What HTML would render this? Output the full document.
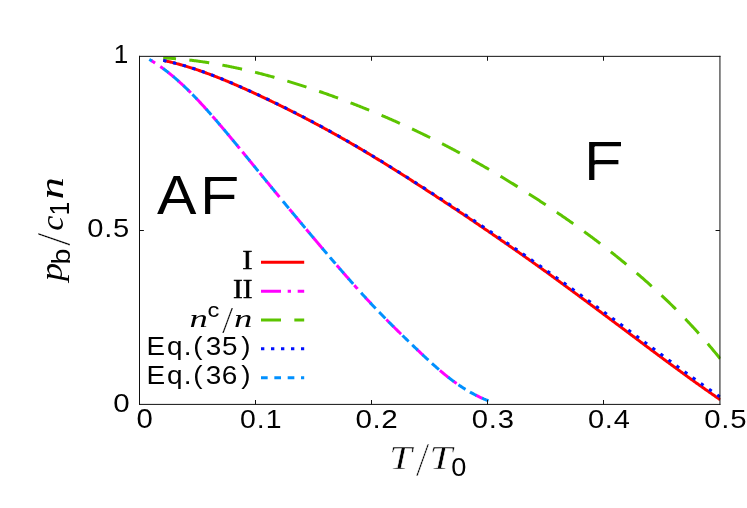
<!DOCTYPE html>
<html><head><meta charset="utf-8"><title>plot</title>
<style>html,body{margin:0;padding:0;background:#fff}svg{display:block}text{font-kerning:none}</style></head><body>
<svg width="747" height="508" viewBox="0 0 747 508">
<rect width="747" height="508" fill="#fff"/>
<defs><clipPath id="cp"><rect x="139.5" y="56.35" width="581.05" height="348.05"/></clipPath></defs>
<g clip-path="url(#cp)" fill="none" stroke-width="3.0" stroke-linecap="butt" stroke-linejoin="round">
<path d="M163.20,60.40 L164.00,60.57 L164.79,60.74 L165.59,60.92 L166.39,61.09 L167.18,61.27 L167.98,61.46 L168.78,61.64 L169.57,61.83 L170.37,62.02 L171.17,62.21 L171.97,62.41 L172.76,62.61 L173.56,62.81 L174.36,63.01 L175.15,63.21 L175.95,63.42 L176.75,63.63 L177.54,63.85 L178.34,64.06 L179.14,64.28 L179.93,64.50 L180.73,64.72 L181.53,64.95 L182.32,65.18 L183.12,65.41 L183.92,65.64 L184.72,65.87 L185.51,66.11 L186.31,66.35 L187.11,66.59 L187.90,66.83 L188.70,67.08 L189.50,67.33 L190.29,67.58 L191.09,67.83 L191.89,68.09 L192.68,68.34 L193.48,68.60 L194.28,68.86 L195.07,69.13 L195.87,69.39 L196.67,69.66 L197.46,69.93 L198.26,70.20 L199.06,70.47 L199.86,70.75 L200.65,71.02 L201.45,71.30 L202.25,71.58 L203.04,71.86 L203.84,72.15 L204.64,72.44 L205.43,72.72 L206.23,73.01 L207.03,73.31 L207.82,73.60 L208.62,73.90 L209.42,74.19 L210.21,74.49 L211.01,74.79 L211.81,75.09 L212.60,75.40 L213.40,75.70 L214.20,76.01 L215.00,76.32 L215.79,76.63 L216.59,76.94 L217.39,77.26 L218.18,77.57 L218.98,77.89 L219.78,78.21 L220.57,78.53 L221.37,78.85 L222.17,79.17 L222.96,79.50 L223.76,79.82 L224.56,80.15 L225.35,80.48 L226.15,80.81 L226.95,81.14 L227.75,81.47 L228.54,81.81 L229.34,82.14 L230.14,82.48 L230.93,82.82 L231.73,83.16 L232.53,83.50 L233.32,83.84 L234.12,84.18 L234.92,84.53 L235.71,84.87 L236.51,85.22 L237.31,85.56 L238.10,85.91 L238.90,86.26 L239.70,86.61 L240.49,86.97 L241.29,87.32 L242.09,87.67 L242.89,88.03 L243.68,88.38 L244.48,88.74 L245.28,89.10 L246.07,89.46 L246.87,89.82 L247.67,90.18 L248.46,90.54 L249.26,90.90 L250.06,91.26 L250.85,91.63 L251.65,91.99 L252.45,92.36 L253.24,92.73 L254.04,93.09 L254.84,93.46 L255.63,93.83 L256.43,94.20 L257.23,94.57 L258.03,94.94 L258.82,95.31 L259.62,95.68 L260.42,96.06 L261.21,96.43 L262.01,96.80 L262.81,97.18 L263.60,97.56 L264.40,97.93 L265.20,98.31 L265.99,98.69 L266.79,99.07 L267.59,99.44 L268.38,99.82 L269.18,100.21 L269.98,100.59 L270.78,100.97 L271.57,101.35 L272.37,101.74 L273.17,102.12 L273.96,102.51 L274.76,102.89 L275.56,103.28 L276.35,103.66 L277.15,104.05 L277.95,104.44 L278.74,104.83 L279.54,105.22 L280.34,105.61 L281.13,106.00 L281.93,106.40 L282.73,106.79 L283.52,107.18 L284.32,107.58 L285.12,107.97 L285.92,108.37 L286.71,108.77 L287.51,109.16 L288.31,109.56 L289.10,109.96 L289.90,110.36 L290.70,110.76 L291.49,111.16 L292.29,111.56 L293.09,111.97 L293.88,112.37 L294.68,112.77 L295.48,113.18 L296.27,113.58 L297.07,113.99 L297.87,114.40 L298.66,114.81 L299.46,115.22 L300.26,115.62 L301.06,116.03 L301.85,116.45 L302.65,116.86 L303.45,117.27 L304.24,117.68 L305.04,118.10 L305.84,118.51 L306.63,118.93 L307.43,119.35 L308.23,119.76 L309.02,120.18 L309.82,120.60 L310.62,121.02 L311.41,121.44 L312.21,121.86 L313.01,122.28 L313.81,122.71 L314.60,123.13 L315.40,123.55 L316.20,123.98 L316.99,124.40 L317.79,124.83 L318.59,125.26 L319.38,125.69 L320.18,126.12 L320.98,126.55 L321.77,126.98 L322.57,127.41 L323.37,127.84 L324.16,128.27 L324.96,128.71 L325.76,129.14 L326.55,129.58 L327.35,130.01 L328.15,130.45 L328.95,130.89 L329.74,131.33 L330.54,131.77 L331.34,132.21 L332.13,132.65 L332.93,133.09 L333.73,133.53 L334.52,133.98 L335.32,134.42 L336.12,134.86 L336.91,135.31 L337.71,135.76 L338.51,136.21 L339.30,136.65 L340.10,137.10 L340.90,137.55 L341.69,138.00 L342.49,138.46 L343.29,138.91 L344.09,139.36 L344.88,139.82 L345.68,140.27 L346.48,140.73 L347.27,141.18 L348.07,141.64 L348.87,142.10 L349.66,142.56 L350.46,143.02 L351.26,143.48 L352.05,143.94 L352.85,144.40 L353.65,144.87 L354.44,145.33 L355.24,145.80 L356.04,146.26 L356.84,146.73 L357.63,147.20 L358.43,147.66 L359.23,148.13 L360.02,148.60 L360.82,149.07 L361.62,149.55 L362.41,150.02 L363.21,150.49 L364.01,150.96 L364.80,151.44 L365.60,151.91 L366.40,152.39 L367.19,152.87 L367.99,153.34 L368.79,153.82 L369.58,154.30 L370.38,154.78 L371.18,155.26 L371.98,155.74 L372.77,156.22 L373.57,156.71 L374.37,157.19 L375.16,157.67 L375.96,158.16 L376.76,158.64 L377.55,159.13 L378.35,159.62 L379.15,160.10 L379.94,160.59 L380.74,161.08 L381.54,161.57 L382.33,162.06 L383.13,162.55 L383.93,163.04 L384.73,163.53 L385.52,164.03 L386.32,164.52 L387.12,165.01 L387.91,165.51 L388.71,166.00 L389.51,166.50 L390.30,167.00 L391.10,167.49 L391.90,167.99 L392.69,168.49 L393.49,168.99 L394.29,169.49 L395.08,169.99 L395.88,170.49 L396.68,170.99 L397.47,171.49 L398.27,172.00 L399.07,172.50 L399.87,173.00 L400.66,173.51 L401.46,174.01 L402.26,174.52 L403.05,175.02 L403.85,175.53 L404.65,176.04 L405.44,176.54 L406.24,177.05 L407.04,177.56 L407.83,178.07 L408.63,178.58 L409.43,179.09 L410.22,179.59 L411.02,180.11 L411.82,180.62 L412.61,181.13 L413.41,181.64 L414.21,182.15 L415.01,182.66 L415.80,183.18 L416.60,183.69 L417.40,184.20 L418.19,184.72 L418.99,185.23 L419.79,185.75 L420.58,186.26 L421.38,186.78 L422.18,187.29 L422.97,187.81 L423.77,188.33 L424.57,188.84 L425.36,189.36 L426.16,189.88 L426.96,190.40 L427.76,190.92 L428.55,191.43 L429.35,191.95 L430.15,192.47 L430.94,192.99 L431.74,193.51 L432.54,194.04 L433.33,194.56 L434.13,195.08 L434.93,195.60 L435.72,196.12 L436.52,196.65 L437.32,197.17 L438.11,197.69 L438.91,198.22 L439.71,198.74 L440.50,199.26 L441.30,199.79 L442.10,200.31 L442.90,200.84 L443.69,201.36 L444.49,201.89 L445.29,202.42 L446.08,202.94 L446.88,203.47 L447.68,204.00 L448.47,204.53 L449.27,205.05 L450.07,205.58 L450.86,206.11 L451.66,206.64 L452.46,207.17 L453.25,207.70 L454.05,208.23 L454.85,208.76 L455.64,209.29 L456.44,209.82 L457.24,210.35 L458.04,210.88 L458.83,211.42 L459.63,211.95 L460.43,212.48 L461.22,213.02 L462.02,213.55 L462.82,214.08 L463.61,214.62 L464.41,215.15 L465.21,215.69 L466.00,216.22 L466.80,216.76 L467.60,217.30 L468.39,217.83 L469.19,218.37 L469.99,218.91 L470.79,219.44 L471.58,219.98 L472.38,220.52 L473.18,221.06 L473.97,221.60 L474.77,222.14 L475.57,222.68 L476.36,223.22 L477.16,223.76 L477.96,224.30 L478.75,224.84 L479.55,225.39 L480.35,225.93 L481.14,226.47 L481.94,227.01 L482.74,227.56 L483.53,228.10 L484.33,228.65 L485.13,229.19 L485.93,229.74 L486.72,230.28 L487.52,230.83 L488.32,231.37 L489.11,231.92 L489.91,232.46 L490.71,233.01 L491.50,233.56 L492.30,234.10 L493.10,234.65 L493.89,235.20 L494.69,235.75 L495.49,236.29 L496.28,236.84 L497.08,237.39 L497.88,237.94 L498.67,238.49 L499.47,239.04 L500.27,239.59 L501.07,240.14 L501.86,240.69 L502.66,241.24 L503.46,241.79 L504.25,242.34 L505.05,242.89 L505.85,243.44 L506.64,243.99 L507.44,244.55 L508.24,245.10 L509.03,245.65 L509.83,246.21 L510.63,246.76 L511.42,247.31 L512.22,247.87 L513.02,248.42 L513.82,248.98 L514.61,249.53 L515.41,250.09 L516.21,250.65 L517.00,251.20 L517.80,251.76 L518.60,252.32 L519.39,252.88 L520.19,253.43 L520.99,253.99 L521.78,254.55 L522.58,255.11 L523.38,255.67 L524.17,256.23 L524.97,256.80 L525.77,257.36 L526.56,257.92 L527.36,258.48 L528.16,259.05 L528.96,259.61 L529.75,260.17 L530.55,260.74 L531.35,261.30 L532.14,261.87 L532.94,262.44 L533.74,263.00 L534.53,263.57 L535.33,264.14 L536.13,264.71 L536.92,265.28 L537.72,265.84 L538.52,266.41 L539.31,266.99 L540.11,267.56 L540.91,268.13 L541.71,268.70 L542.50,269.27 L543.30,269.85 L544.10,270.42 L544.89,270.99 L545.69,271.57 L546.49,272.15 L547.28,272.72 L548.08,273.30 L548.88,273.88 L549.67,274.45 L550.47,275.03 L551.27,275.61 L552.06,276.19 L552.86,276.77 L553.66,277.35 L554.45,277.93 L555.25,278.52 L556.05,279.10 L556.85,279.68 L557.64,280.26 L558.44,280.85 L559.24,281.43 L560.03,282.01 L560.83,282.60 L561.63,283.18 L562.42,283.77 L563.22,284.35 L564.02,284.94 L564.81,285.52 L565.61,286.11 L566.41,286.69 L567.20,287.28 L568.00,287.87 L568.80,288.45 L569.59,289.04 L570.39,289.63 L571.19,290.21 L571.99,290.80 L572.78,291.39 L573.58,291.98 L574.38,292.56 L575.17,293.15 L575.97,293.74 L576.77,294.33 L577.56,294.92 L578.36,295.51 L579.16,296.10 L579.95,296.69 L580.75,297.28 L581.55,297.87 L582.34,298.46 L583.14,299.05 L583.94,299.64 L584.74,300.23 L585.53,300.82 L586.33,301.41 L587.13,302.00 L587.92,302.59 L588.72,303.18 L589.52,303.77 L590.31,304.36 L591.11,304.96 L591.91,305.55 L592.70,306.14 L593.50,306.73 L594.30,307.32 L595.09,307.92 L595.89,308.51 L596.69,309.10 L597.48,309.69 L598.28,310.29 L599.08,310.88 L599.88,311.47 L600.67,312.06 L601.47,312.66 L602.27,313.25 L603.06,313.84 L603.86,314.44 L604.66,315.03 L605.45,315.62 L606.25,316.22 L607.05,316.81 L607.84,317.40 L608.64,318.00 L609.44,318.59 L610.23,319.19 L611.03,319.78 L611.83,320.37 L612.62,320.97 L613.42,321.56 L614.22,322.16 L615.02,322.75 L615.81,323.35 L616.61,323.94 L617.41,324.54 L618.20,325.13 L619.00,325.73 L619.80,326.33 L620.59,326.92 L621.39,327.52 L622.19,328.12 L622.98,328.71 L623.78,329.31 L624.58,329.91 L625.37,330.50 L626.17,331.10 L626.97,331.70 L627.77,332.29 L628.56,332.89 L629.36,333.49 L630.16,334.09 L630.95,334.68 L631.75,335.28 L632.55,335.88 L633.34,336.48 L634.14,337.07 L634.94,337.67 L635.73,338.27 L636.53,338.87 L637.33,339.47 L638.12,340.06 L638.92,340.66 L639.72,341.26 L640.51,341.86 L641.31,342.45 L642.11,343.05 L642.91,343.65 L643.70,344.24 L644.50,344.84 L645.30,345.44 L646.09,346.03 L646.89,346.63 L647.69,347.23 L648.48,347.82 L649.28,348.42 L650.08,349.01 L650.87,349.61 L651.67,350.20 L652.47,350.80 L653.26,351.39 L654.06,351.99 L654.86,352.58 L655.65,353.18 L656.45,353.77 L657.25,354.36 L658.05,354.96 L658.84,355.55 L659.64,356.14 L660.44,356.73 L661.23,357.32 L662.03,357.91 L662.83,358.51 L663.62,359.10 L664.42,359.69 L665.22,360.28 L666.01,360.87 L666.81,361.45 L667.61,362.04 L668.40,362.63 L669.20,363.22 L670.00,363.80 L670.80,364.39 L671.59,364.98 L672.39,365.56 L673.19,366.15 L673.98,366.73 L674.78,367.32 L675.58,367.90 L676.37,368.49 L677.17,369.07 L677.97,369.65 L678.76,370.23 L679.56,370.82 L680.36,371.40 L681.15,371.98 L681.95,372.56 L682.75,373.14 L683.54,373.72 L684.34,374.30 L685.14,374.88 L685.94,375.46 L686.73,376.03 L687.53,376.61 L688.33,377.19 L689.12,377.76 L689.92,378.34 L690.72,378.91 L691.51,379.49 L692.31,380.06 L693.11,380.63 L693.90,381.21 L694.70,381.78 L695.50,382.35 L696.29,382.92 L697.09,383.49 L697.89,384.06 L698.68,384.63 L699.48,385.20 L700.28,385.76 L701.08,386.33 L701.87,386.89 L702.67,387.46 L703.47,388.02 L704.26,388.59 L705.06,389.15 L705.86,389.71 L706.65,390.27 L707.45,390.83 L708.25,391.39 L709.04,391.95 L709.84,392.51 L710.64,393.07 L711.43,393.63 L712.23,394.18 L713.03,394.74 L713.83,395.29 L714.62,395.84 L715.42,396.40 L716.22,396.95 L717.01,397.50 L717.81,398.05 L718.61,398.60 L719.40,399.15 L720.20,399.69" stroke="#ff0000"/>
<path d="M163.20,57.90 L164.00,57.94 L164.79,57.98 L165.59,58.02 L166.39,58.07 L167.18,58.11 L167.98,58.16 L168.78,58.21 L169.57,58.26 L170.37,58.32 L171.17,58.37 L171.97,58.43 L172.76,58.49 L173.56,58.55 L174.36,58.61 L175.15,58.67 L175.95,58.74 L176.75,58.80 L177.54,58.87 L178.34,58.94 L179.14,59.01 L179.93,59.08 L180.73,59.16 L181.53,59.23 L182.32,59.31 L183.12,59.39 L183.92,59.47 L184.72,59.55 L185.51,59.64 L186.31,59.72 L187.11,59.81 L187.90,59.90 L188.70,59.99 L189.50,60.08 L190.29,60.17 L191.09,60.27 L191.89,60.36 L192.68,60.46 L193.48,60.56 L194.28,60.66 L195.07,60.76 L195.87,60.86 L196.67,60.97 L197.46,61.07 L198.26,61.18 L199.06,61.29 L199.86,61.40 L200.65,61.51 L201.45,61.63 L202.25,61.74 L203.04,61.86 L203.84,61.98 L204.64,62.10 L205.43,62.22 L206.23,62.34 L207.03,62.46 L207.82,62.59 L208.62,62.71 L209.42,62.84 L210.21,62.97 L211.01,63.10 L211.81,63.23 L212.60,63.37 L213.40,63.50 L214.20,63.64 L215.00,63.77 L215.79,63.91 L216.59,64.05 L217.39,64.19 L218.18,64.33 L218.98,64.48 L219.78,64.62 L220.57,64.77 L221.37,64.92 L222.17,65.07 L222.96,65.22 L223.76,65.37 L224.56,65.52 L225.35,65.67 L226.15,65.83 L226.95,65.99 L227.75,66.14 L228.54,66.30 L229.34,66.46 L230.14,66.62 L230.93,66.79 L231.73,66.95 L232.53,67.12 L233.32,67.28 L234.12,67.45 L234.92,67.62 L235.71,67.79 L236.51,67.96 L237.31,68.13 L238.10,68.31 L238.90,68.48 L239.70,68.66 L240.49,68.83 L241.29,69.01 L242.09,69.19 L242.89,69.37 L243.68,69.55 L244.48,69.74 L245.28,69.92 L246.07,70.10 L246.87,70.29 L247.67,70.48 L248.46,70.67 L249.26,70.85 L250.06,71.05 L250.85,71.24 L251.65,71.43 L252.45,71.62 L253.24,71.82 L254.04,72.01 L254.84,72.21 L255.63,72.41 L256.43,72.61 L257.23,72.81 L258.03,73.01 L258.82,73.21 L259.62,73.41 L260.42,73.62 L261.21,73.82 L262.01,74.03 L262.81,74.24 L263.60,74.44 L264.40,74.65 L265.20,74.86 L265.99,75.08 L266.79,75.29 L267.59,75.50 L268.38,75.72 L269.18,75.93 L269.98,76.15 L270.78,76.36 L271.57,76.58 L272.37,76.80 L273.17,77.02 L273.96,77.24 L274.76,77.47 L275.56,77.69 L276.35,77.91 L277.15,78.14 L277.95,78.37 L278.74,78.59 L279.54,78.82 L280.34,79.05 L281.13,79.28 L281.93,79.51 L282.73,79.74 L283.52,79.98 L284.32,80.21 L285.12,80.45 L285.92,80.68 L286.71,80.92 L287.51,81.16 L288.31,81.40 L289.10,81.64 L289.90,81.88 L290.70,82.12 L291.49,82.36 L292.29,82.60 L293.09,82.85 L293.88,83.09 L294.68,83.34 L295.48,83.59 L296.27,83.84 L297.07,84.09 L297.87,84.34 L298.66,84.59 L299.46,84.84 L300.26,85.09 L301.06,85.35 L301.85,85.60 L302.65,85.86 L303.45,86.11 L304.24,86.37 L305.04,86.63 L305.84,86.89 L306.63,87.15 L307.43,87.41 L308.23,87.67 L309.02,87.93 L309.82,88.20 L310.62,88.46 L311.41,88.73 L312.21,88.99 L313.01,89.26 L313.81,89.53 L314.60,89.80 L315.40,90.07 L316.20,90.34 L316.99,90.61 L317.79,90.88 L318.59,91.16 L319.38,91.43 L320.18,91.71 L320.98,91.98 L321.77,92.26 L322.57,92.54 L323.37,92.82 L324.16,93.09 L324.96,93.37 L325.76,93.66 L326.55,93.94 L327.35,94.22 L328.15,94.50 L328.95,94.79 L329.74,95.07 L330.54,95.36 L331.34,95.65 L332.13,95.94 L332.93,96.22 L333.73,96.51 L334.52,96.80 L335.32,97.09 L336.12,97.39 L336.91,97.68 L337.71,97.97 L338.51,98.27 L339.30,98.56 L340.10,98.86 L340.90,99.15 L341.69,99.45 L342.49,99.75 L343.29,100.05 L344.09,100.35 L344.88,100.65 L345.68,100.95 L346.48,101.25 L347.27,101.56 L348.07,101.86 L348.87,102.17 L349.66,102.47 L350.46,102.78 L351.26,103.08 L352.05,103.39 L352.85,103.70 L353.65,104.01 L354.44,104.32 L355.24,104.63 L356.04,104.94 L356.84,105.26 L357.63,105.57 L358.43,105.88 L359.23,106.20 L360.02,106.51 L360.82,106.83 L361.62,107.15 L362.41,107.47 L363.21,107.79 L364.01,108.11 L364.80,108.43 L365.60,108.75 L366.40,109.07 L367.19,109.39 L367.99,109.72 L368.79,110.04 L369.58,110.37 L370.38,110.69 L371.18,111.02 L371.98,111.35 L372.77,111.68 L373.57,112.01 L374.37,112.34 L375.16,112.67 L375.96,113.00 L376.76,113.33 L377.55,113.67 L378.35,114.00 L379.15,114.34 L379.94,114.67 L380.74,115.01 L381.54,115.35 L382.33,115.69 L383.13,116.03 L383.93,116.37 L384.73,116.71 L385.52,117.05 L386.32,117.40 L387.12,117.74 L387.91,118.09 L388.71,118.43 L389.51,118.78 L390.30,119.13 L391.10,119.48 L391.90,119.82 L392.69,120.17 L393.49,120.53 L394.29,120.88 L395.08,121.23 L395.88,121.58 L396.68,121.94 L397.47,122.29 L398.27,122.65 L399.07,123.01 L399.87,123.37 L400.66,123.73 L401.46,124.09 L402.26,124.45 L403.05,124.81 L403.85,125.17 L404.65,125.54 L405.44,125.90 L406.24,126.27 L407.04,126.63 L407.83,127.00 L408.63,127.37 L409.43,127.74 L410.22,128.11 L411.02,128.48 L411.82,128.85 L412.61,129.22 L413.41,129.60 L414.21,129.97 L415.01,130.35 L415.80,130.72 L416.60,131.10 L417.40,131.48 L418.19,131.86 L418.99,132.24 L419.79,132.62 L420.58,133.00 L421.38,133.39 L422.18,133.77 L422.97,134.16 L423.77,134.54 L424.57,134.93 L425.36,135.32 L426.16,135.71 L426.96,136.09 L427.76,136.49 L428.55,136.88 L429.35,137.27 L430.15,137.66 L430.94,138.06 L431.74,138.45 L432.54,138.85 L433.33,139.25 L434.13,139.65 L434.93,140.05 L435.72,140.45 L436.52,140.85 L437.32,141.25 L438.11,141.65 L438.91,142.06 L439.71,142.46 L440.50,142.87 L441.30,143.28 L442.10,143.69 L442.90,144.10 L443.69,144.51 L444.49,144.92 L445.29,145.33 L446.08,145.74 L446.88,146.16 L447.68,146.57 L448.47,146.99 L449.27,147.41 L450.07,147.83 L450.86,148.24 L451.66,148.66 L452.46,149.09 L453.25,149.51 L454.05,149.93 L454.85,150.36 L455.64,150.78 L456.44,151.21 L457.24,151.63 L458.04,152.06 L458.83,152.49 L459.63,152.92 L460.43,153.35 L461.22,153.78 L462.02,154.22 L462.82,154.65 L463.61,155.09 L464.41,155.52 L465.21,155.96 L466.00,156.40 L466.80,156.84 L467.60,157.27 L468.39,157.72 L469.19,158.16 L469.99,158.60 L470.79,159.04 L471.58,159.49 L472.38,159.93 L473.18,160.38 L473.97,160.83 L474.77,161.27 L475.57,161.72 L476.36,162.17 L477.16,162.62 L477.96,163.08 L478.75,163.53 L479.55,163.98 L480.35,164.44 L481.14,164.89 L481.94,165.35 L482.74,165.81 L483.53,166.27 L484.33,166.73 L485.13,167.19 L485.93,167.65 L486.72,168.11 L487.52,168.57 L488.32,169.04 L489.11,169.50 L489.91,169.97 L490.71,170.44 L491.50,170.90 L492.30,171.37 L493.10,171.84 L493.89,172.31 L494.69,172.78 L495.49,173.26 L496.28,173.73 L497.08,174.21 L497.88,174.68 L498.67,175.16 L499.47,175.63 L500.27,176.11 L501.07,176.59 L501.86,177.07 L502.66,177.55 L503.46,178.03 L504.25,178.51 L505.05,179.00 L505.85,179.48 L506.64,179.97 L507.44,180.45 L508.24,180.94 L509.03,181.43 L509.83,181.92 L510.63,182.41 L511.42,182.90 L512.22,183.39 L513.02,183.88 L513.82,184.37 L514.61,184.87 L515.41,185.36 L516.21,185.86 L517.00,186.36 L517.80,186.85 L518.60,187.35 L519.39,187.85 L520.19,188.35 L520.99,188.85 L521.78,189.36 L522.58,189.86 L523.38,190.36 L524.17,190.87 L524.97,191.37 L525.77,191.88 L526.56,192.39 L527.36,192.89 L528.16,193.40 L528.96,193.91 L529.75,194.42 L530.55,194.94 L531.35,195.45 L532.14,195.96 L532.94,196.48 L533.74,196.99 L534.53,197.51 L535.33,198.02 L536.13,198.54 L536.92,199.06 L537.72,199.58 L538.52,200.10 L539.31,200.62 L540.11,201.14 L540.91,201.67 L541.71,202.19 L542.50,202.71 L543.30,203.24 L544.10,203.77 L544.89,204.29 L545.69,204.82 L546.49,205.35 L547.28,205.88 L548.08,206.41 L548.88,206.95 L549.67,207.48 L550.47,208.01 L551.27,208.55 L552.06,209.09 L552.86,209.62 L553.66,210.16 L554.45,210.70 L555.25,211.24 L556.05,211.78 L556.85,212.33 L557.64,212.87 L558.44,213.41 L559.24,213.96 L560.03,214.51 L560.83,215.05 L561.63,215.60 L562.42,216.15 L563.22,216.70 L564.02,217.26 L564.81,217.81 L565.61,218.36 L566.41,218.92 L567.20,219.48 L568.00,220.03 L568.80,220.59 L569.59,221.15 L570.39,221.71 L571.19,222.27 L571.99,222.84 L572.78,223.40 L573.58,223.97 L574.38,224.54 L575.17,225.10 L575.97,225.67 L576.77,226.24 L577.56,226.82 L578.36,227.39 L579.16,227.96 L579.95,228.54 L580.75,229.11 L581.55,229.69 L582.34,230.27 L583.14,230.85 L583.94,231.43 L584.74,232.02 L585.53,232.60 L586.33,233.19 L587.13,233.77 L587.92,234.36 L588.72,234.95 L589.52,235.54 L590.31,236.13 L591.11,236.73 L591.91,237.32 L592.70,237.92 L593.50,238.51 L594.30,239.11 L595.09,239.71 L595.89,240.31 L596.69,240.92 L597.48,241.52 L598.28,242.13 L599.08,242.73 L599.88,243.34 L600.67,243.95 L601.47,244.56 L602.27,245.18 L603.06,245.79 L603.86,246.40 L604.66,247.02 L605.45,247.64 L606.25,248.26 L607.05,248.88 L607.84,249.50 L608.64,250.13 L609.44,250.75 L610.23,251.38 L611.03,252.01 L611.83,252.64 L612.62,253.27 L613.42,253.90 L614.22,254.54 L615.02,255.17 L615.81,255.81 L616.61,256.45 L617.41,257.09 L618.20,257.73 L619.00,258.38 L619.80,259.02 L620.59,259.67 L621.39,260.32 L622.19,260.97 L622.98,261.62 L623.78,262.27 L624.58,262.93 L625.37,263.58 L626.17,264.24 L626.97,264.90 L627.77,265.56 L628.56,266.22 L629.36,266.89 L630.16,267.55 L630.95,268.22 L631.75,268.89 L632.55,269.56 L633.34,270.24 L634.14,270.91 L634.94,271.59 L635.73,272.27 L636.53,272.95 L637.33,273.63 L638.12,274.31 L638.92,275.00 L639.72,275.69 L640.51,276.38 L641.31,277.07 L642.11,277.76 L642.91,278.46 L643.70,279.16 L644.50,279.86 L645.30,280.56 L646.09,281.26 L646.89,281.97 L647.69,282.68 L648.48,283.39 L649.28,284.10 L650.08,284.82 L650.87,285.53 L651.67,286.25 L652.47,286.97 L653.26,287.70 L654.06,288.42 L654.86,289.15 L655.65,289.88 L656.45,290.62 L657.25,291.35 L658.05,292.09 L658.84,292.83 L659.64,293.57 L660.44,294.32 L661.23,295.06 L662.03,295.81 L662.83,296.57 L663.62,297.32 L664.42,298.08 L665.22,298.84 L666.01,299.60 L666.81,300.37 L667.61,301.14 L668.40,301.91 L669.20,302.68 L670.00,303.46 L670.80,304.24 L671.59,305.02 L672.39,305.80 L673.19,306.59 L673.98,307.38 L674.78,308.17 L675.58,308.97 L676.37,309.77 L677.17,310.57 L677.97,311.37 L678.76,312.18 L679.56,312.99 L680.36,313.80 L681.15,314.62 L681.95,315.44 L682.75,316.26 L683.54,317.09 L684.34,317.92 L685.14,318.75 L685.94,319.58 L686.73,320.42 L687.53,321.26 L688.33,322.11 L689.12,322.95 L689.92,323.80 L690.72,324.66 L691.51,325.51 L692.31,326.37 L693.11,327.24 L693.90,328.10 L694.70,328.97 L695.50,329.85 L696.29,330.72 L697.09,331.61 L697.89,332.49 L698.68,333.38 L699.48,334.27 L700.28,335.16 L701.08,336.06 L701.87,336.96 L702.67,337.86 L703.47,338.77 L704.26,339.68 L705.06,340.60 L705.86,341.52 L706.65,342.44 L707.45,343.37 L708.25,344.30 L709.04,345.23 L709.84,346.17 L710.64,347.11 L711.43,348.06 L712.23,349.00 L713.03,349.96 L713.83,350.91 L714.62,351.87 L715.42,352.84 L716.22,353.81 L717.01,354.78 L717.81,355.75 L718.61,356.73 L719.40,357.72 L720.20,358.70" stroke="#5cc400" stroke-dasharray="20.064 13.376" stroke-dashoffset="7.2"/>
<path d="M163.20,60.40 L164.00,60.57 L164.79,60.74 L165.59,60.91 L166.39,61.08 L167.18,61.26 L167.98,61.44 L168.78,61.62 L169.57,61.81 L170.37,61.99 L171.17,62.18 L171.97,62.38 L172.76,62.57 L173.56,62.77 L174.36,62.97 L175.15,63.17 L175.95,63.38 L176.75,63.59 L177.54,63.80 L178.34,64.01 L179.14,64.23 L179.93,64.45 L180.73,64.67 L181.53,64.89 L182.32,65.11 L183.12,65.34 L183.92,65.57 L184.72,65.80 L185.51,66.04 L186.31,66.27 L187.11,66.51 L187.90,66.75 L188.70,67.00 L189.50,67.24 L190.29,67.49 L191.09,67.74 L191.89,67.99 L192.68,68.25 L193.48,68.50 L194.28,68.76 L195.07,69.02 L195.87,69.29 L196.67,69.55 L197.46,69.82 L198.26,70.09 L199.06,70.36 L199.86,70.63 L200.65,70.91 L201.45,71.18 L202.25,71.46 L203.04,71.74 L203.84,72.02 L204.64,72.31 L205.43,72.60 L206.23,72.88 L207.03,73.17 L207.82,73.46 L208.62,73.76 L209.42,74.05 L210.21,74.35 L211.01,74.65 L211.81,74.95 L212.60,75.25 L213.40,75.56 L214.20,75.86 L215.00,76.17 L215.79,76.48 L216.59,76.79 L217.39,77.10 L218.18,77.41 L218.98,77.73 L219.78,78.05 L220.57,78.36 L221.37,78.68 L222.17,79.00 L222.96,79.33 L223.76,79.65 L224.56,79.98 L225.35,80.30 L226.15,80.63 L226.95,80.96 L227.75,81.29 L228.54,81.63 L229.34,81.96 L230.14,82.29 L230.93,82.63 L231.73,82.97 L232.53,83.31 L233.32,83.65 L234.12,83.99 L234.92,84.33 L235.71,84.68 L236.51,85.02 L237.31,85.37 L238.10,85.71 L238.90,86.06 L239.70,86.41 L240.49,86.76 L241.29,87.11 L242.09,87.47 L242.89,87.82 L243.68,88.17 L244.48,88.53 L245.28,88.89 L246.07,89.24 L246.87,89.60 L247.67,89.96 L248.46,90.32 L249.26,90.68 L250.06,91.05 L250.85,91.41 L251.65,91.77 L252.45,92.14 L253.24,92.50 L254.04,92.87 L254.84,93.24 L255.63,93.60 L256.43,93.97 L257.23,94.34 L258.03,94.71 L258.82,95.08 L259.62,95.45 L260.42,95.83 L261.21,96.20 L262.01,96.57 L262.81,96.95 L263.60,97.32 L264.40,97.70 L265.20,98.07 L265.99,98.45 L266.79,98.83 L267.59,99.21 L268.38,99.59 L269.18,99.97 L269.98,100.35 L270.78,100.73 L271.57,101.11 L272.37,101.49 L273.17,101.88 L273.96,102.26 L274.76,102.65 L275.56,103.03 L276.35,103.42 L277.15,103.81 L277.95,104.20 L278.74,104.59 L279.54,104.97 L280.34,105.37 L281.13,105.76 L281.93,106.15 L282.73,106.54 L283.52,106.93 L284.32,107.33 L285.12,107.72 L285.92,108.12 L286.71,108.52 L287.51,108.91 L288.31,109.31 L289.10,109.71 L289.90,110.11 L290.70,110.51 L291.49,110.91 L292.29,111.31 L293.09,111.72 L293.88,112.12 L294.68,112.52 L295.48,112.93 L296.27,113.33 L297.07,113.74 L297.87,114.15 L298.66,114.56 L299.46,114.97 L300.26,115.37 L301.06,115.79 L301.85,116.20 L302.65,116.61 L303.45,117.02 L304.24,117.43 L305.04,117.85 L305.84,118.26 L306.63,118.68 L307.43,119.10 L308.23,119.51 L309.02,119.93 L309.82,120.35 L310.62,120.77 L311.41,121.19 L312.21,121.61 L313.01,122.03 L313.81,122.46 L314.60,122.88 L315.40,123.31 L316.20,123.73 L316.99,124.16 L317.79,124.58 L318.59,125.01 L319.38,125.44 L320.18,125.87 L320.98,126.30 L321.77,126.73 L322.57,127.16 L323.37,127.59 L324.16,128.03 L324.96,128.46 L325.76,128.89 L326.55,129.33 L327.35,129.77 L328.15,130.20 L328.95,130.64 L329.74,131.08 L330.54,131.52 L331.34,131.96 L332.13,132.40 L332.93,132.84 L333.73,133.29 L334.52,133.73 L335.32,134.17 L336.12,134.62 L336.91,135.07 L337.71,135.51 L338.51,135.96 L339.30,136.41 L340.10,136.86 L340.90,137.31 L341.69,137.76 L342.49,138.21 L343.29,138.66 L344.09,139.12 L344.88,139.57 L345.68,140.03 L346.48,140.48 L347.27,140.94 L348.07,141.40 L348.87,141.86 L349.66,142.32 L350.46,142.78 L351.26,143.24 L352.05,143.70 L352.85,144.16 L353.65,144.62 L354.44,145.09 L355.24,145.55 L356.04,146.02 L356.84,146.49 L357.63,146.95 L358.43,147.42 L359.23,147.89 L360.02,148.36 L360.82,148.83 L361.62,149.30 L362.41,149.77 L363.21,150.25 L364.01,150.72 L364.80,151.20 L365.60,151.67 L366.40,152.15 L367.19,152.62 L367.99,153.10 L368.79,153.58 L369.58,154.06 L370.38,154.54 L371.18,155.02 L371.98,155.50 L372.77,155.98 L373.57,156.46 L374.37,156.95 L375.16,157.43 L375.96,157.91 L376.76,158.40 L377.55,158.89 L378.35,159.37 L379.15,159.86 L379.94,160.35 L380.74,160.84 L381.54,161.32 L382.33,161.81 L383.13,162.31 L383.93,162.80 L384.73,163.29 L385.52,163.78 L386.32,164.27 L387.12,164.77 L387.91,165.26 L388.71,165.76 L389.51,166.25 L390.30,166.75 L391.10,167.25 L391.90,167.74 L392.69,168.24 L393.49,168.74 L394.29,169.24 L395.08,169.74 L395.88,170.24 L396.68,170.74 L397.47,171.24 L398.27,171.75 L399.07,172.25 L399.87,172.75 L400.66,173.26 L401.46,173.76 L402.26,174.26 L403.05,174.77 L403.85,175.27 L404.65,175.77 L405.44,176.28 L406.24,176.78 L407.04,177.28 L407.83,177.79 L408.63,178.29 L409.43,178.79 L410.22,179.30 L411.02,179.80 L411.82,180.30 L412.61,180.80 L413.41,181.31 L414.21,181.81 L415.01,182.31 L415.80,182.82 L416.60,183.32 L417.40,183.83 L418.19,184.33 L418.99,184.83 L419.79,185.34 L420.58,185.84 L421.38,186.35 L422.18,186.85 L422.97,187.36 L423.77,187.87 L424.57,188.37 L425.36,188.88 L426.16,189.38 L426.96,189.89 L427.76,190.40 L428.55,190.91 L429.35,191.41 L430.15,191.92 L430.94,192.43 L431.74,192.94 L432.54,193.45 L433.33,193.96 L434.13,194.47 L434.93,194.98 L435.72,195.49 L436.52,196.01 L437.32,196.52 L438.11,197.03 L438.91,197.55 L439.71,198.06 L440.50,198.57 L441.30,199.09 L442.10,199.61 L442.90,200.12 L443.69,200.64 L444.49,201.16 L445.29,201.68 L446.08,202.20 L446.88,202.72 L447.68,203.24 L448.47,203.76 L449.27,204.28 L450.07,204.80 L450.86,205.32 L451.66,205.84 L452.46,206.36 L453.25,206.88 L454.05,207.40 L454.85,207.93 L455.64,208.45 L456.44,208.97 L457.24,209.50 L458.04,210.02 L458.83,210.54 L459.63,211.07 L460.43,211.59 L461.22,212.12 L462.02,212.65 L462.82,213.17 L463.61,213.70 L464.41,214.22 L465.21,214.75 L466.00,215.28 L466.80,215.81 L467.60,216.34 L468.39,216.86 L469.19,217.39 L469.99,217.92 L470.79,218.45 L471.58,218.98 L472.38,219.51 L473.18,220.04 L473.97,220.57 L474.77,221.11 L475.57,221.64 L476.36,222.17 L477.16,222.70 L477.96,223.24 L478.75,223.77 L479.55,224.31 L480.35,224.84 L481.14,225.37 L481.94,225.91 L482.74,226.45 L483.53,226.98 L484.33,227.52 L485.13,228.05 L485.93,228.59 L486.72,229.13 L487.52,229.67 L488.32,230.21 L489.11,230.74 L489.91,231.28 L490.71,231.82 L491.50,232.36 L492.30,232.90 L493.10,233.44 L493.89,233.98 L494.69,234.52 L495.49,235.07 L496.28,235.61 L497.08,236.15 L497.88,236.69 L498.67,237.24 L499.47,237.78 L500.27,238.32 L501.07,238.87 L501.86,239.41 L502.66,239.96 L503.46,240.50 L504.25,241.05 L505.05,241.59 L505.85,242.14 L506.64,242.69 L507.44,243.24 L508.24,243.78 L509.03,244.33 L509.83,244.88 L510.63,245.43 L511.42,245.98 L512.22,246.53 L513.02,247.08 L513.82,247.63 L514.61,248.18 L515.41,248.73 L516.21,249.28 L517.00,249.83 L517.80,250.38 L518.60,250.94 L519.39,251.49 L520.19,252.04 L520.99,252.60 L521.78,253.15 L522.58,253.71 L523.38,254.26 L524.17,254.82 L524.97,255.37 L525.77,255.93 L526.56,256.49 L527.36,257.04 L528.16,257.60 L528.96,258.16 L529.75,258.72 L530.55,259.27 L531.35,259.83 L532.14,260.39 L532.94,260.95 L533.74,261.51 L534.53,262.07 L535.33,262.63 L536.13,263.20 L536.92,263.76 L537.72,264.32 L538.52,264.88 L539.31,265.44 L540.11,266.01 L540.91,266.57 L541.71,267.13 L542.50,267.70 L543.30,268.26 L544.10,268.83 L544.89,269.39 L545.69,269.96 L546.49,270.52 L547.28,271.09 L548.08,271.65 L548.88,272.22 L549.67,272.78 L550.47,273.35 L551.27,273.92 L552.06,274.48 L552.86,275.05 L553.66,275.62 L554.45,276.18 L555.25,276.75 L556.05,277.32 L556.85,277.89 L557.64,278.46 L558.44,279.02 L559.24,279.59 L560.03,280.16 L560.83,280.73 L561.63,281.30 L562.42,281.87 L563.22,282.44 L564.02,283.01 L564.81,283.58 L565.61,284.15 L566.41,284.72 L567.20,285.30 L568.00,285.87 L568.80,286.44 L569.59,287.01 L570.39,287.59 L571.19,288.16 L571.99,288.73 L572.78,289.31 L573.58,289.88 L574.38,290.45 L575.17,291.03 L575.97,291.60 L576.77,292.18 L577.56,292.75 L578.36,293.33 L579.16,293.91 L579.95,294.48 L580.75,295.06 L581.55,295.64 L582.34,296.21 L583.14,296.79 L583.94,297.37 L584.74,297.95 L585.53,298.53 L586.33,299.11 L587.13,299.69 L587.92,300.27 L588.72,300.85 L589.52,301.43 L590.31,302.01 L591.11,302.59 L591.91,303.17 L592.70,303.75 L593.50,304.34 L594.30,304.92 L595.09,305.50 L595.89,306.09 L596.69,306.67 L597.48,307.25 L598.28,307.84 L599.08,308.42 L599.88,309.01 L600.67,309.60 L601.47,310.18 L602.27,310.77 L603.06,311.36 L603.86,311.94 L604.66,312.53 L605.45,313.12 L606.25,313.71 L607.05,314.30 L607.84,314.89 L608.64,315.47 L609.44,316.06 L610.23,316.65 L611.03,317.24 L611.83,317.83 L612.62,318.42 L613.42,319.01 L614.22,319.60 L615.02,320.19 L615.81,320.78 L616.61,321.37 L617.41,321.96 L618.20,322.54 L619.00,323.13 L619.80,323.72 L620.59,324.31 L621.39,324.90 L622.19,325.49 L622.98,326.08 L623.78,326.67 L624.58,327.26 L625.37,327.85 L626.17,328.44 L626.97,329.03 L627.77,329.62 L628.56,330.21 L629.36,330.80 L630.16,331.39 L630.95,331.98 L631.75,332.58 L632.55,333.17 L633.34,333.76 L634.14,334.35 L634.94,334.94 L635.73,335.53 L636.53,336.12 L637.33,336.71 L638.12,337.30 L638.92,337.89 L639.72,338.48 L640.51,339.07 L641.31,339.66 L642.11,340.25 L642.91,340.84 L643.70,341.43 L644.50,342.02 L645.30,342.61 L646.09,343.20 L646.89,343.79 L647.69,344.38 L648.48,344.97 L649.28,345.56 L650.08,346.15 L650.87,346.74 L651.67,347.33 L652.47,347.92 L653.26,348.51 L654.06,349.10 L654.86,349.69 L655.65,350.28 L656.45,350.87 L657.25,351.46 L658.05,352.06 L658.84,352.65 L659.64,353.24 L660.44,353.84 L661.23,354.43 L662.03,355.03 L662.83,355.62 L663.62,356.21 L664.42,356.81 L665.22,357.40 L666.01,358.00 L666.81,358.59 L667.61,359.19 L668.40,359.78 L669.20,360.38 L670.00,360.97 L670.80,361.57 L671.59,362.16 L672.39,362.75 L673.19,363.35 L673.98,363.94 L674.78,364.53 L675.58,365.12 L676.37,365.71 L677.17,366.30 L677.97,366.89 L678.76,367.48 L679.56,368.07 L680.36,368.65 L681.15,369.24 L681.95,369.82 L682.75,370.41 L683.54,370.99 L684.34,371.57 L685.14,372.15 L685.94,372.73 L686.73,373.31 L687.53,373.89 L688.33,374.46 L689.12,375.04 L689.92,375.61 L690.72,376.18 L691.51,376.76 L692.31,377.33 L693.11,377.90 L693.90,378.47 L694.70,379.04 L695.50,379.61 L696.29,380.18 L697.09,380.74 L697.89,381.31 L698.68,381.88 L699.48,382.44 L700.28,383.01 L701.08,383.57 L701.87,384.13 L702.67,384.70 L703.47,385.26 L704.26,385.82 L705.06,386.38 L705.86,386.94 L706.65,387.50 L707.45,388.06 L708.25,388.62 L709.04,389.18 L709.84,389.74 L710.64,390.30 L711.43,390.86 L712.23,391.42 L713.03,391.97 L713.83,392.53 L714.62,393.09 L715.42,393.65 L716.22,394.21 L717.01,394.76 L717.81,395.32 L718.61,395.88 L719.40,396.43 L720.20,396.99" stroke="#0010ff" stroke-dasharray="3.33 6.679"/>
<path d="M151.30,60.60 L151.73,60.86 L152.21,61.15 L152.70,61.45 L153.18,61.76 L153.67,62.06 L154.15,62.37 L154.64,62.68 L155.10,62.98M160.30,66.51 L160.46,66.62 L160.95,66.96 L161.43,67.31 L161.92,67.66 L162.40,68.02 L162.89,68.37 L163.37,68.73 L163.86,69.09 L163.90,69.12M167.90,72.19 L168.23,72.44 L168.71,72.83 L169.20,73.22 L169.68,73.61 L170.17,74.00 L170.65,74.39 L171.14,74.79 L171.62,75.19 L172.11,75.59 L172.59,75.99 L173.08,76.40 L173.56,76.81 L173.80,77.01M178.10,80.74 L178.42,81.02 L178.90,81.46 L179.39,81.90 L179.87,82.33 L180.36,82.77 L180.84,83.22 L181.33,83.66 L181.81,84.11 L182.30,84.56 L182.78,85.01 L183.27,85.47 L183.75,85.92 L184.00,86.15M188.00,90.01 L188.12,90.12 L188.61,90.60 L189.09,91.08 L189.58,91.56 L190.06,92.05 L190.55,92.53 L190.80,92.79M196.40,98.54 L196.86,99.01 L197.34,99.53 L197.83,100.04 L198.31,100.55 L198.80,101.07 L199.28,101.59 L199.77,102.11 L200.25,102.63 L200.74,103.15 L201.22,103.67 L201.71,104.20 L202.19,104.73 L202.68,105.25 L203.16,105.78 L203.65,106.32 L204.13,106.85 L204.62,107.38 L205.11,107.92 L205.59,108.46 L206.08,109.00 L206.56,109.54 L206.60,109.58M212.60,116.36 L212.87,116.67 L213.35,117.22 L213.84,117.78 L214.33,118.34 L214.81,118.90 L215.30,119.46 L215.78,120.02 L216.27,120.58 L216.30,120.62M219.20,124.00 L219.66,124.54 L220.15,125.11 L220.63,125.68 L221.12,126.25 L221.60,126.82 L222.09,127.40 L222.57,127.97 L223.06,128.54 L223.55,129.12 L224.03,129.69 L224.50,130.25M227.90,134.29 L227.91,134.31 L228.40,134.89 L228.88,135.47 L229.37,136.05 L229.85,136.63 L230.34,137.21 L230.82,137.79 L231.31,138.38 L231.79,138.96 L232.28,139.54 L232.77,140.13 L233.20,140.65M236.90,145.12 L237.13,145.40 L237.62,145.99 L238.10,146.58 L238.59,147.16 L239.07,147.75 L239.56,148.34 L239.60,148.39M242.40,151.80 L242.47,151.88 L242.96,152.47 L243.44,153.06 L243.93,153.65 L244.41,154.25 L244.90,154.84 L245.38,155.43 L245.87,156.02 L246.30,156.55M249.20,160.09 L249.26,160.17 L249.75,160.77 L250.24,161.36 L250.72,161.95 L251.21,162.55 L251.69,163.14 L252.18,163.73 L252.66,164.33 L253.15,164.92 L253.63,165.52 L254.12,166.11 L254.50,166.58M259.70,172.94 L259.94,173.24 L260.43,173.83 L260.91,174.42 L261.40,175.02 L261.88,175.61 L262.37,176.20 L262.85,176.80 L263.10,177.10M266.40,181.13 L266.73,181.54 L267.22,182.13 L267.70,182.72 L268.19,183.31 L268.68,183.90 L269.16,184.49 L269.65,185.09 L270.13,185.68 L270.62,186.27 L271.10,186.86 L271.59,187.45 L271.80,187.71M274.70,191.24 L274.98,191.58 L275.47,192.17 L275.95,192.76 L276.44,193.35 L276.92,193.94 L277.41,194.53 L277.90,195.12 L278.38,195.70 L278.87,196.29 L279.35,196.88 L279.50,197.06M289.50,209.15 L289.54,209.20 L290.03,209.79 L290.51,210.37 L291.00,210.96 L291.48,211.54 L291.97,212.13 L292.45,212.71 L292.90,213.25M296.10,217.10 L296.34,217.38 L296.82,217.96 L297.31,218.55 L297.79,219.13 L298.28,219.71 L298.76,220.30 L299.25,220.88 L299.73,221.46 L300.22,222.04 L300.70,222.62 L301.19,223.20 L301.40,223.46M306.30,229.32 L306.53,229.59 L307.01,230.17 L307.50,230.75 L307.98,231.33 L308.47,231.91 L308.95,232.48 L309.44,233.06 L309.70,233.38M312.90,237.18 L313.32,237.68 L313.80,238.26 L314.29,238.83 L314.78,239.41 L315.26,239.98 L315.75,240.56 L316.23,241.14 L316.72,241.71 L317.20,242.28 L317.69,242.86 L318.17,243.43 L318.66,244.01 L319.14,244.58 L319.63,245.15 L320.11,245.73 L320.60,246.30 L321.08,246.87 L321.57,247.44 L322.05,248.02 L322.54,248.59 L322.80,248.90M336.80,265.25 L337.10,265.60 L337.58,266.16 L338.07,266.72 L338.55,267.28 L339.04,267.84 L339.52,268.40 L340.01,268.96 L340.20,269.18M343.10,272.52 L343.41,272.87 L343.89,273.43 L344.38,273.98 L344.86,274.54 L345.35,275.09 L345.83,275.65 L346.32,276.20 L346.80,276.76 L347.29,277.31 L347.77,277.86 L348.26,278.41 L348.74,278.97 L348.90,279.14M354.20,285.13 L354.57,285.54 L355.05,286.08 L355.54,286.63 L356.02,287.17 L356.51,287.71 L356.99,288.25 L357.48,288.79 L357.50,288.82M365.60,297.74 L365.73,297.88 L366.21,298.40 L366.70,298.93 L367.18,299.46 L367.67,299.98 L368.15,300.51 L368.64,301.03 L369.12,301.55 L369.61,302.07 L370.10,302.59 L370.58,303.11 L370.80,303.35M386.30,319.46 L386.59,319.75 L387.08,320.24 L387.56,320.73 L388.05,321.22 L388.54,321.71 L389.02,322.20 L389.30,322.48M393.00,326.17 L393.39,326.55 L393.87,327.03 L394.36,327.51 L394.84,327.99 L395.33,328.47 L395.81,328.95 L396.30,329.43 L396.78,329.91 L397.27,330.38 L397.76,330.86 L398.24,331.34 L398.73,331.81 L399.21,332.29 L399.70,332.76 L400.18,333.24 L400.67,333.71 L401.10,334.13M417.10,349.55 L417.17,349.62 L417.65,350.08 L418.14,350.54 L418.62,351.00 L419.11,351.46 L419.59,351.93 L420.08,352.39 L420.56,352.85 L421.05,353.31 L421.53,353.76 L422.02,354.22 L422.50,354.68 L422.99,355.14 L423.10,355.24M439.90,370.40 L439.97,370.46 L440.46,370.88 L440.94,371.29 L441.43,371.70 L441.91,372.10 L442.40,372.51 L442.89,372.92 L443.37,373.32 L443.86,373.72 L444.34,374.12 L444.83,374.51 L445.31,374.91 L445.80,375.30 L446.28,375.69 L446.77,376.08 L447.25,376.47 L447.74,376.85 L448.22,377.23 L448.71,377.62 L448.80,377.69M453.40,381.18 L453.56,381.30 L454.05,381.65 L454.53,382.00 L455.02,382.36 L455.50,382.70 L455.99,383.05 L456.47,383.39 L456.60,383.48M475.80,395.17 L475.88,395.21 L476.37,395.46 L476.85,395.70 L477.34,395.94 L477.82,396.18 L478.31,396.42 L478.79,396.65 L479.28,396.89 L479.77,397.11 L480.25,397.34 L480.74,397.57 L481.22,397.79 L481.71,398.01 L482.19,398.22 L482.68,398.44 L482.70,398.45" stroke="#ff00ff"/>
<path d="M149.30,59.41 L149.79,59.69 L150.27,59.98 L150.76,60.27 L151.24,60.56 L151.73,60.86 L151.90,60.96M163.30,68.67 L163.37,68.73 L163.86,69.09 L164.34,69.45 L164.83,69.82 L165.31,70.18 L165.80,70.55 L166.28,70.93 L166.77,71.30 L167.25,71.68 L167.74,72.06 L168.23,72.44 L168.50,72.66M173.20,76.50 L173.56,76.81 L174.05,77.22 L174.53,77.63 L175.02,78.05 L175.50,78.47 L175.99,78.89 L176.47,79.31 L176.96,79.74 L177.45,80.16 L177.93,80.59 L178.42,81.02 L178.70,81.28M183.40,85.59 L183.75,85.92 L184.24,86.38 L184.72,86.84 L185.21,87.30 L185.69,87.77 L186.18,88.24 L186.67,88.70 L187.15,89.18 L187.64,89.65 L188.12,90.12 L188.60,90.60M192.40,94.40 L192.49,94.49 L192.97,94.99 L193.46,95.48 L193.94,95.98 L194.43,96.48 L194.91,96.99 L195.40,97.49 L195.89,98.00 L196.37,98.50 L196.86,99.01 L197.00,99.17M206.00,108.91 L206.08,109.00 L206.56,109.54 L207.05,110.08 L207.53,110.62 L208.02,111.16 L208.50,111.71 L208.99,112.25 L209.47,112.80 L209.96,113.35 L210.44,113.90 L210.93,114.45 L211.30,114.87M215.70,119.92 L215.78,120.02 L216.27,120.58 L216.75,121.14 L217.24,121.71 L217.72,122.27 L218.21,122.84 L218.69,123.41 L219.18,123.97 L219.66,124.54 L219.80,124.70M223.90,129.54 L224.03,129.69 L224.52,130.27 L225.00,130.84 L225.49,131.42 L225.97,131.99 L226.46,132.57 L226.94,133.15 L227.43,133.73 L227.91,134.31 L228.40,134.89 L228.50,135.01M232.60,139.93 L232.77,140.13 L233.25,140.71 L233.74,141.30 L234.22,141.88 L234.71,142.47 L235.19,143.05 L235.68,143.64 L236.16,144.23 L236.65,144.81 L237.13,145.40 L237.50,145.84M245.70,155.82 L245.87,156.02 L246.35,156.61 L246.84,157.21 L247.32,157.80 L247.81,158.39 L248.29,158.99 L248.78,159.58 L249.26,160.17 L249.75,160.77 L249.80,160.83M253.90,165.84 L254.12,166.11 L254.60,166.70 L255.09,167.30 L255.57,167.89 L256.06,168.49 L256.54,169.08 L257.03,169.67 L257.51,170.27 L258.00,170.86 L258.30,171.23M262.50,176.37 L262.85,176.80 L263.34,177.39 L263.82,177.98 L264.31,178.58 L264.79,179.17 L265.28,179.76 L265.76,180.35 L266.25,180.94 L266.73,181.54 L267.00,181.86M271.20,186.98 L271.59,187.45 L272.07,188.04 L272.56,188.63 L273.04,189.22 L273.53,189.81 L274.01,190.40 L274.50,190.99 L274.98,191.58 L275.30,191.96M282.90,201.18 L283.23,201.58 L283.72,202.17 L284.20,202.76 L284.69,203.34 L285.17,203.93 L285.66,204.52 L286.14,205.10 L286.63,205.69 L287.12,206.28 L287.60,206.86 L288.09,207.45 L288.57,208.03 L288.80,208.31M292.30,212.53 L292.45,212.71 L292.94,213.30 L293.42,213.88 L293.91,214.46 L294.39,215.05 L294.88,215.63 L295.36,216.22 L295.85,216.80 L296.34,217.38 L296.70,217.82M300.80,222.74 L301.19,223.20 L301.67,223.79 L302.16,224.37 L302.64,224.95 L303.13,225.53 L303.61,226.11 L304.10,226.69 L304.58,227.27 L305.07,227.85 L305.20,228.01M309.10,232.66 L309.44,233.06 L309.92,233.64 L310.41,234.22 L310.89,234.80 L311.38,235.37 L311.86,235.95 L312.35,236.53 L312.83,237.10 L313.32,237.68 L313.50,237.90M322.20,248.19 L322.54,248.59 L323.02,249.16 L323.51,249.73 L324.00,250.30 L324.48,250.87 L324.97,251.44 L325.45,252.01 L325.94,252.58 L326.42,253.15 L326.91,253.72 L327.00,253.83M330.00,257.34 L330.30,257.70 L330.79,258.26 L331.27,258.83 L331.76,259.39 L332.24,259.96 L332.73,260.53 L333.22,261.09 L333.70,261.65 L334.19,262.22 L334.67,262.78 L335.16,263.35 L335.40,263.63M339.60,268.49 L340.01,268.96 L340.49,269.52 L340.98,270.08 L341.46,270.64 L341.95,271.20 L342.44,271.76 L342.92,272.31 L343.41,272.87 L343.70,273.21M348.30,278.46 L348.74,278.97 L349.23,279.52 L349.71,280.07 L350.20,280.62 L350.68,281.17 L351.17,281.72 L351.66,282.26 L352.14,282.81 L352.63,283.36 L353.10,283.89M361.10,292.81 L361.36,293.10 L361.85,293.63 L362.33,294.16 L362.82,294.70 L363.30,295.23 L363.79,295.76 L364.27,296.29 L364.76,296.82 L365.24,297.35 L365.73,297.88 L366.20,298.39M370.20,302.70 L370.58,303.11 L371.07,303.63 L371.55,304.15 L372.04,304.67 L372.52,305.18 L373.01,305.70 L373.49,306.21 L373.98,306.73 L374.46,307.24 L374.95,307.75 L375.43,308.26 L375.70,308.54M379.10,312.09 L379.32,312.31 L379.80,312.81 L380.29,313.31 L380.77,313.81 L381.26,314.31 L381.74,314.81 L382.23,315.31 L382.71,315.81 L383.20,316.30 L383.68,316.80 L384.17,317.29 L384.65,317.79 L385.14,318.28 L385.30,318.44M388.70,321.87 L389.02,322.20 L389.51,322.68 L389.99,323.17 L390.48,323.65 L390.96,324.14 L391.45,324.62 L391.93,325.11 L392.42,325.59 L392.90,326.07 L393.39,326.55 L393.60,326.76M402.50,335.49 L402.61,335.60 L403.09,336.07 L403.58,336.54 L404.06,337.01 L404.55,337.48 L405.03,337.95 L405.52,338.42 L406.01,338.89 L406.49,339.36 L406.98,339.83 L407.46,340.30 L407.95,340.77 L408.43,341.24 L408.70,341.49M412.20,344.86 L412.31,344.97 L412.80,345.43 L413.28,345.90 L413.77,346.37 L414.25,346.83 L414.74,347.30 L415.23,347.76 L415.71,348.22 L416.20,348.69 L416.68,349.15 L417.17,349.62 L417.65,350.08 L417.70,350.12M422.50,354.68 L422.50,354.68 L422.99,355.14 L423.47,355.59 L423.96,356.05 L424.45,356.50 L424.93,356.95 L425.42,357.41 L425.90,357.86 L426.39,358.31 L426.87,358.76 L427.36,359.21 L427.84,359.66 L428.33,360.10 L428.40,360.17M432.00,363.45 L432.21,363.64 L432.69,364.08 L433.18,364.51 L433.67,364.95 L434.15,365.38 L434.64,365.81 L435.12,366.24 L435.61,366.67 L436.09,367.10 L436.58,367.52 L437.06,367.95 L437.55,368.37 L438.03,368.79 L438.52,369.21 L438.90,369.54M448.20,377.22 L448.22,377.23 L448.71,377.62 L449.19,377.99 L449.68,378.37 L450.16,378.74 L450.65,379.11 L451.13,379.48 L451.62,379.85 L452.11,380.22 L452.59,380.58 L453.08,380.94 L453.56,381.30 L454.00,381.62M458.50,384.80 L458.90,385.08 L459.38,385.41 L459.87,385.74 L460.35,386.06 L460.84,386.38 L461.33,386.70 L461.81,387.02 L462.30,387.34 L462.78,387.65 L463.27,387.96 L463.75,388.27 L464.24,388.58 L464.72,388.88 L465.21,389.18 L465.50,389.36M470.00,392.03 L470.06,392.07 L470.55,392.34 L471.03,392.62 L471.52,392.89 L472.00,393.15 L472.49,393.42 L472.97,393.68 L473.46,393.94 L473.94,394.20 L474.43,394.46 L474.91,394.71 L475.40,394.96 L475.88,395.21 L476.37,395.46 L476.40,395.47M482.10,398.18 L482.19,398.22 L482.68,398.44 L483.16,398.65 L483.65,398.86 L484.13,399.07 L484.62,399.27 L485.10,399.47 L485.59,399.67 L486.07,399.87 L486.56,400.06 L487.04,400.25 L487.53,400.44 L488.01,400.63 L488.50,400.82" stroke="#0090ff"/>
</g>
<g fill="none" stroke-width="3.0">
<path d="M261.0,262.3H304.2" stroke="#ff0000"/>
<path d="M261.0,291.2H304.2" stroke="#ff00ff" stroke-dasharray="20.00 6.67 3.33 6.67"/>
<path d="M261.0,320.0H304.2" stroke="#5cc400" stroke-dasharray="20.00 13.33"/>
<path d="M261.0,348.7H304.2" stroke="#0010ff" stroke-dasharray="3.33 6.67"/>
<path d="M261.0,377.7H304.2" stroke="#0090ff" stroke-dasharray="6.67 6.67"/>
</g>
<g fill="none" stroke="#111" stroke-width="1">
<path d="M139.5,55.85V404.9M719.95,55.85V404.9M139.0,56.35H720.45M139.0,404.4H720.45"/>
<path d="M255.5,404.4v-4.4M255.5,56.35v4.4M371.5,404.4v-4.4M371.5,56.35v4.4M487.5,404.4v-4.4M487.5,56.35v4.4M603.5,404.4v-4.4M603.5,56.35v4.4M139.5,230.5h4.4M719.95,230.5h-4.4"/>
</g>
<g fill="#000" opacity="0.999">
<text transform="matrix(0.2609 0 0 0.2616 113.81 63.10)" font-family='"Liberation Sans", sans-serif' font-size="100">1</text>
<text transform="matrix(0.2912 0 0 0.2599 0 237.14)" x="299.71 357.92 388.32" font-family='"Liberation Sans", sans-serif' font-size="100">0.5</text>
<text transform="matrix(0.2950 0 0 0.2641 113.15 411.84)" font-family='"Liberation Sans", sans-serif' font-size="100">0</text>
<text transform="matrix(0.2929 0 0 0.2684 136.56 427.84)" font-family='"Liberation Sans", sans-serif' font-size="100">0</text>
<text transform="matrix(0.2843 0 0 0.2655 0 427.73)" x="844.49 903.17 934.41" font-family='"Liberation Sans", sans-serif' font-size="100">0.1</text>
<text transform="matrix(0.2960 0 0 0.2655 0 427.73)" x="1201.27 1258.52 1288.36" font-family='"Liberation Sans", sans-serif' font-size="100">0.2</text>
<text transform="matrix(0.2922 0 0 0.2655 0 427.73)" x="1614.94 1672.67 1703.72" font-family='"Liberation Sans", sans-serif' font-size="100">0.3</text>
<text transform="matrix(0.2901 0 0 0.2655 0 427.73)" x="2027.05 2084.91 2115.86" font-family='"Liberation Sans", sans-serif' font-size="100">0.4</text>
<text transform="matrix(0.2936 0 0 0.2655 0 427.73)" x="2399.01 2456.78 2487.15" font-family='"Liberation Sans", sans-serif' font-size="100">0.5</text>
<text transform="matrix(0.5912 0 0 0.5480 156.98 214.20)" font-family='"Liberation Sans", sans-serif' font-size="100">A</text>
<text transform="matrix(0.6486 0 0 0.5422 199.78 214.20)" font-family='"Liberation Sans", sans-serif' font-size="100">F</text>
<text transform="matrix(0.6527 0 0 0.5465 583.75 179.80)" font-family='"Liberation Sans", sans-serif' font-size="100">F</text>
<path fill="#fff" d="M210.2,181.5h1.6v13.2h-1.6zM210.2,199.3h1.6v15.4h-1.6zM594.4,146.8h1.5v13.4h-1.5zM594.4,164.8h1.5v15.4h-1.5zM234.3,192h3.5v8h-3.5zM618.4,158h3.5v8h-3.5z"/>
<text transform="matrix(0.3095 0 0 0.2642 242.18 268.70)" font-family='"Liberation Serif", serif' font-size="100" stroke="#000" stroke-width="0.5" vector-effect="non-scaling-stroke">I</text>
<text transform="matrix(0.2926 0 0 0.2688 232.94 297.90)" font-family='"Liberation Serif", serif' font-size="100" stroke="#000" stroke-width="0.5" vector-effect="non-scaling-stroke">II</text>
<text transform="matrix(0.3666 0 0 0.2610 189.39 327.10)" font-family='"Liberation Serif", serif' font-style="italic" font-size="100">n</text>
<text transform="matrix(0.2366 0 0 0.2063 207.40 316.80)" font-family='"Liberation Sans", sans-serif' font-size="100">c</text>
<text transform="matrix(0.2676 0 0 0.3842 223.53 332.62)" font-family='"Liberation Serif", serif' font-style="italic" font-size="100" stroke="#fff" stroke-width="0.2" vector-effect="non-scaling-stroke">/</text>
<text transform="matrix(0.3666 0 0 0.2610 233.89 327.10)" font-family='"Liberation Serif", serif' font-style="italic" font-size="100">n</text>
<text transform="matrix(0.2785 0 0 0.2602 0 355.40)" x="526.09 599.60 660.00 693.94 739.03 797.55 866.72" font-family='"Liberation Sans", sans-serif' font-size="100">Eq.(35)</text>
<text transform="matrix(0.2798 0 0 0.2587 0 384.30)" x="523.32 596.50 656.66 690.41 735.24 793.03 862.36" font-family='"Liberation Sans", sans-serif' font-size="100">Eq.(36)</text>
<text transform="matrix(0.4056 0 0 0.3268 389.15 468.90)" font-family='"Liberation Serif", serif' font-style="italic" font-size="100" stroke="#fff" stroke-width="0.5" vector-effect="non-scaling-stroke">T</text>
<text transform="matrix(0.3301 0 0 0.4754 417.62 476.44)" font-family='"Liberation Serif", serif' font-style="italic" font-size="100" stroke="#fff" stroke-width="0.55" vector-effect="non-scaling-stroke">/</text>
<text transform="matrix(0.4092 0 0 0.3268 429.52 468.90)" font-family='"Liberation Serif", serif' font-style="italic" font-size="100" stroke="#fff" stroke-width="0.5" vector-effect="non-scaling-stroke">T</text>
<text transform="matrix(0.2720 0 0 0.2556 451.24 475.65)" font-family='"Liberation Sans", sans-serif' font-size="100">0</text>
<text transform="rotate(-90) matrix(0.3634 0 0 0.3084 -281.07 62.43)" font-family='"Liberation Serif", serif' font-style="italic" font-size="100">p</text>
<text transform="rotate(-90) matrix(0.2846 0 0 0.2614 -264.53 70.04)" font-family='"Liberation Sans", sans-serif' font-size="100">b</text>
<text transform="rotate(-90) matrix(0.3201 0 0 0.4784 -244.23 69.83)" font-family='"Liberation Serif", serif' font-style="italic" font-size="100" stroke="#fff" stroke-width="0.3" vector-effect="non-scaling-stroke">/</text>
<text transform="rotate(-90) matrix(0.3405 0 0 0.3223 -230.75 62.89)" font-family='"Liberation Serif", serif' font-style="italic" font-size="100">c</text>
<text transform="rotate(-90) matrix(0.2412 0 0 0.2689 -215.14 69.10)" font-family='"Liberation Sans", sans-serif' font-size="100">1</text>
<text transform="rotate(-90) matrix(0.4399 0 0 0.3268 -199.27 62.80)" font-family='"Liberation Serif", serif' font-style="italic" font-size="100">n</text>
</g>
</svg></body></html>
